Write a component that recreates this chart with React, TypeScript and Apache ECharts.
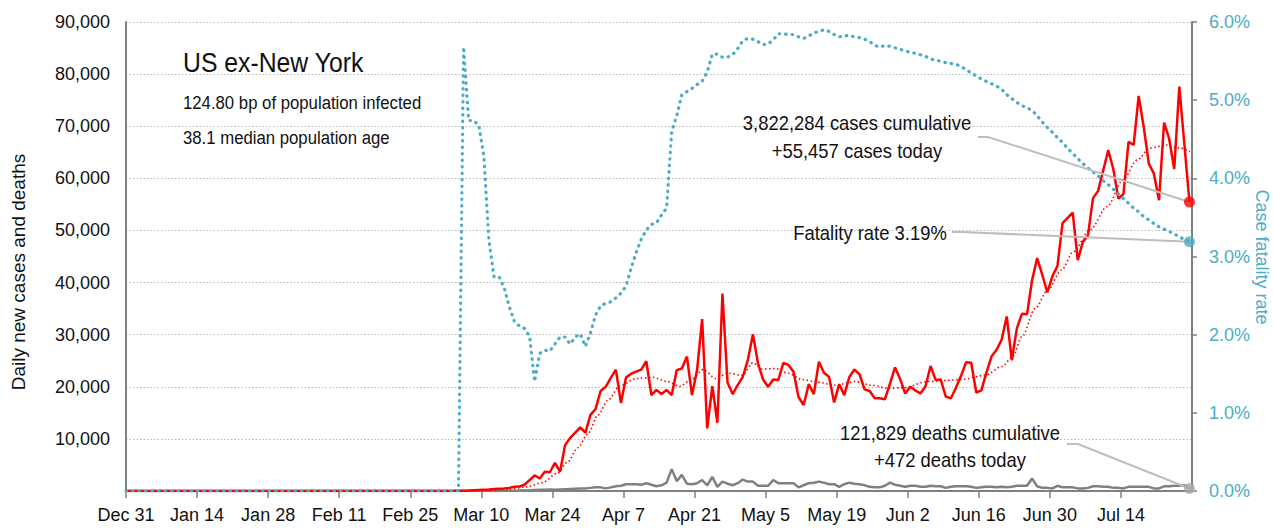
import React, { useEffect, useRef } from "react";
import * as echarts from "echarts";

// ---------- data ----------
const X_TICK_LABELS = [
  "Dec 31", "Jan 14", "Jan 28", "Feb 11", "Feb 25", "Mar 10", "Mar 24", "Apr 7",
  "Apr 21", "May 5", "May 19", "Jun 2", "Jun 16", "Jun 30", "Jul 14",
];
// day index 0 = Dec 31; arrays below start at FIRST_DAY (Feb 29)
const FIRST_DAY = 60;

const CASES = [
  0, 0, 10, 20, 30, 50, 70, 100, 150, 200,
  250, 300, 400, 450, 500, 600, 800, 850, 1200, 2100,
  3000, 2400, 3700, 3600, 5400, 3700, 8800, 10200, 11200, 12200,
  11200, 14600, 15700, 19200, 20000, 21700, 23300, 16900, 21800, 22500,
  22900, 23300, 24900, 18400, 19400, 18600, 19400, 18400, 23200, 23500,
  25800, 18400, 23200, 33000, 12000, 20100, 13100, 37900, 20800, 18600,
  20300, 21900, 25100, 30100, 24500, 21400, 20000, 21400, 21300, 24600,
  24200, 22900, 18000, 16500, 20500, 18600, 24800, 22700, 21900, 17000,
  20500, 18400, 21900, 23300, 22400, 19500, 19200, 17800, 17800, 17600,
  20600, 23700, 21500, 18700, 20000, 19300, 18700, 20100, 24000, 21300,
  21400, 18100, 17800, 19800, 22100, 24700, 24600, 18900, 19300, 22700,
  25800, 27100, 29000, 33500, 25100, 31200, 34000, 33900, 40500, 44700,
  41500, 38100, 41200, 43200, 51400, 52400, 53400, 44300, 47800, 49000,
  56200, 57600, 61500, 65400, 61800, 56100, 57000, 67000, 66400, 75800,
  69800, 62800, 60900, 55800, 70700, 67600, 61800, 77600, 66500, 55457,
];

const DEATHS = [
  0, 0, 0, 0, 0, 0, 0, 0, 10, 10,
  10, 20, 20, 30, 40, 50, 70, 100, 120, 150,
  200, 250, 250, 300, 250, 300, 350, 400, 450, 500,
  500, 600, 700, 700, 500, 700, 900, 1000, 1300, 1300,
  1300, 1200, 1500, 1200, 900, 1100, 1600, 4200, 1900, 3100,
  1400, 1300, 1500, 2100, 1100, 2700, 800, 1800, 1400, 1100,
  1500, 2200, 1800, 1800, 1000, 1000, 1000, 2100, 1500, 1500,
  1500, 1500, 700, 1100, 1500, 1600, 1800, 1600, 1300, 1300,
  800, 1300, 1600, 1400, 1300, 1100, 800, 700, 700, 1000,
  1600, 1200, 1000, 800, 1000, 1000, 800, 800, 1000, 900,
  900, 600, 800, 900, 900, 900, 800, 600, 700, 800,
  800, 700, 800, 700, 800, 1000, 1000, 1000, 2400, 900,
  600, 600, 500, 1000, 700, 700, 700, 500, 500, 600,
  900, 900, 800, 800, 600, 600, 500, 800, 800, 800,
  800, 800, 500, 500, 900, 900, 1000, 1000, 1100, 472,
];

// case fatality rate, percent
const FATALITY = [
  0, 0, 0, 0, 0, 0, 5.68, 4.74, 4.74, 4.68,
  4.28, 3.2, 2.74, 2.74, 2.6, 2.36, 2.17, 2.11, 2.08, 1.98,
  1.4, 1.76, 1.8, 1.79, 1.88, 1.97, 1.97, 1.88, 1.97, 2.01,
  1.85, 2.02, 2.25, 2.37, 2.4, 2.42, 2.47, 2.53, 2.62, 2.85,
  3.05, 3.22, 3.34, 3.41, 3.43, 3.53, 3.62, 4.6, 4.8, 5.07,
  5.11, 5.15, 5.2, 5.24, 5.36, 5.59, 5.59, 5.55, 5.55, 5.58,
  5.66, 5.76, 5.79, 5.78, 5.75, 5.71, 5.72, 5.77, 5.85, 5.85,
  5.84, 5.84, 5.81, 5.79, 5.82, 5.86, 5.88, 5.9, 5.88, 5.84,
  5.81, 5.82, 5.83, 5.81, 5.8, 5.78, 5.75, 5.7, 5.68, 5.7,
  5.69, 5.67, 5.65, 5.63, 5.61, 5.6, 5.58, 5.56, 5.53, 5.51,
  5.5, 5.48, 5.47, 5.46, 5.43, 5.39, 5.35, 5.31, 5.27, 5.24,
  5.21, 5.18, 5.14, 5.07, 5.02, 4.97, 4.93, 4.9, 4.87, 4.8,
  4.72, 4.65, 4.59, 4.52, 4.46, 4.38, 4.32, 4.25, 4.19, 4.13,
  4.08, 4.03, 3.97, 3.92, 3.86, 3.8, 3.74, 3.68, 3.62, 3.57,
  3.51, 3.47, 3.42, 3.38, 3.35, 3.32, 3.29, 3.25, 3.22, 3.19,
];

// smoothed cases trend (day index, cases)
const TREND_DAYS = [
  0, 70, 75, 79, 82, 85, 87, 89, 91, 93, 95, 97.3, 100.6, 103.8, 106.6, 109.1,
  111.5, 113.7, 116.2, 118.6, 121.4, 123.5, 125.3, 127.9, 130.4, 133.2, 135.7,
  139.7, 143.6, 146.9, 150.1, 153, 158, 164.7, 169.2, 172.6, 174.7, 176.5,
  179.1, 181.6, 184.3, 186.6, 189.9, 193.3, 196.4, 199.2, 201.7, 205.1, 207.6, 209.6,
];
const TREND_CASES = [
  0, 100, 300, 800, 1600, 3400, 5600, 8300, 11000, 14600, 17500, 20200, 21600, 21800, 21000, 20100,
  21500, 23300, 21600, 22600, 22200, 24600, 23400, 23500, 22600, 21400, 21000,
  20300, 21000, 20300, 19700, 19800, 21000, 21400, 22200, 23900, 25800, 29600,
  35000, 38600, 42400, 45900, 50100, 54600, 59700, 63500, 65800, 66400, 65800, 65100,
];

const TITLE = "US ex-New York";
const SUBTITLES = ["124.80 bp of population infected", "38.1 median population age"];
const CASES_NOTE = ["3,822,284 cases cumulative", "+55,457 cases today"];
const FATALITY_NOTE = "Fatality rate 3.19%";
const DEATHS_NOTE = ["121,829 deaths cumulative", "+472 deaths today"];
const LEFT_AXIS_NAME = "Daily new cases and deaths";
const RIGHT_AXIS_NAME = "Case fatality rate";

// ---------- styling ----------
const FONT = "'Liberation Sans', Arial, sans-serif";
const RED = "#ff0000";
const BLUE = "#4bacc6";
const GRAY = "#808080";
const DOT_GRAY = "#a6a6a6";
const LEADER = "#bdbdbd";
const DAY_OFFSET = 0.5;

const toPoints = (vals: number[]) => [
  [0, 0],
  ...vals.map((v, i) => [FIRST_DAY + i + DAY_OFFSET, v]),
];
const lastX = FIRST_DAY + CASES.length - 1 + DAY_OFFSET;

export default function App() {
  const ref = useRef<HTMLDivElement>(null);

  useEffect(() => {
    document.body.style.margin = "0";
    const chart = echarts.init(ref.current!, null, { renderer: "svg" });
    const option: any = {
      animation: false,
      backgroundColor: "#ffffff",
      grid: { left: 126, right: 81, top: 22, bottom: 38, containLabel: false, outerBoundsMode: "none" },
      xAxis: {
        type: "value",
        min: 0,
        max: 210,
        interval: 14,
        axisLine: { show: true, lineStyle: { color: GRAY, width: 2 } },
        axisTick: { show: true, length: 7, lineStyle: { color: GRAY, width: 1.5 } },
        axisLabel: {
          color: "#111",
          fontFamily: FONT,
          fontSize: 18,
          margin: 15,
          showMaxLabel: false,
          formatter: (v: number) => X_TICK_LABELS[Math.round(v / 14)] ?? "",
        },
        splitLine: { show: false },
      },
      yAxis: [
        {
          type: "value",
          min: 0,
          max: 90000,
          interval: 10000,
          axisLine: { show: true, lineStyle: { color: GRAY, width: 2 } },
          axisTick: { show: false },
          axisLabel: {
            color: "#111",
            fontFamily: FONT,
            fontSize: 18,
            margin: 16,
            formatter: (v: number) => (v === 0 ? "" : v.toLocaleString("en-US")),
          },
          splitLine: { show: true, lineStyle: { color: "#b8b8b8", type: [1.5, 2], width: 1 } },
        },
        {
          type: "value",
          min: 0,
          max: 6,
          interval: 1,
          position: "right",
          axisLine: { show: true, lineStyle: { color: GRAY, width: 2 } },
          axisTick: { show: true, length: 5, lineStyle: { color: GRAY, width: 1.5 } },
          axisLabel: {
            color: BLUE,
            fontFamily: FONT,
            fontSize: 18,
            margin: 17,
            formatter: (v: number) => v.toFixed(1) + "%",
          },
          splitLine: { show: false },
        },
      ],
      series: [
        {
          name: "Deaths",
          type: "line",
          data: toPoints(DEATHS),
          showSymbol: false,
          lineStyle: { color: GRAY, width: 2.5 },
          z: 2,
        },
        {
          name: "Cases",
          type: "line",
          data: toPoints(CASES),
          showSymbol: false,
          lineStyle: { color: RED, width: 2.5 },
          z: 3,
        },
        {
          name: "Trend",
          type: "line",
          data: TREND_DAYS.map((d, i) => [d, TREND_CASES[i]]),
          showSymbol: false,
          smooth: 0.3,
          smoothMonotone: "x",
          lineStyle: { color: RED, width: 1.6, type: [1.5, 2.5] },
          z: 4,
        },
        {
          name: "Fatality",
          type: "line",
          yAxisIndex: 1,
          data: toPoints(FATALITY),
          showSymbol: false,
          lineStyle: { color: BLUE, width: 3.2, type: [0.5, 6], cap: "round" },
          z: 5,
        },
        {
          name: "end-deaths",
          type: "scatter",
          data: [[lastX, DEATHS[DEATHS.length - 1]]],
          symbolSize: 11,
          itemStyle: { color: DOT_GRAY },
          z: 8,
        },
        {
          name: "end-cases",
          type: "scatter",
          data: [[lastX, CASES[CASES.length - 1]]],
          symbolSize: 11,
          itemStyle: { color: RED },
          z: 8,
        },
        {
          name: "end-fatality",
          type: "scatter",
          yAxisIndex: 1,
          data: [[lastX, FATALITY[FATALITY.length - 1]]],
          symbolSize: 11,
          itemStyle: { color: BLUE },
          z: 8,
        },
      ],
    };
    chart.setOption(option);

    const pCases = chart.convertToPixel({ xAxisIndex: 0, yAxisIndex: 0 }, [lastX, CASES[CASES.length - 1]]) as number[];
    const pDeaths = chart.convertToPixel({ xAxisIndex: 0, yAxisIndex: 0 }, [lastX, DEATHS[DEATHS.length - 1]]) as number[];
    const pFat = chart.convertToPixel({ xAxisIndex: 0, yAxisIndex: 1 }, [lastX, FATALITY[FATALITY.length - 1]]) as number[];

    const txt = (
      text: string, x: number, y: number, size: number, sx: number,
      align = "center", fill = "#111", rotation = 0,
    ) => ({
      type: "text",
      x,
      y,
      scaleX: sx,
      rotation,
      z: 20,
      style: {
        text,
        x: 0,
        y: 0,
        fill,
        font: `${size}px ${FONT}`,
        textAlign: align,
        textVerticalAlign: "middle",
      },
    });
    const leader = (pts: number[][]) => ({
      type: "polyline",
      z: 6,
      shape: { points: pts },
      style: { stroke: LEADER, lineWidth: 2, fill: "none" },
    });

    chart.setOption({
      graphic: [
        txt(TITLE, 183, 62, 28, 0.885, "left"),
        txt(SUBTITLES[0], 183, 103, 18.6, 0.9, "left"),
        txt(SUBTITLES[1], 183, 138, 18.6, 0.9, "left"),
        txt(CASES_NOTE[0], 857, 123, 21, 0.877),
        txt(CASES_NOTE[1], 857, 151, 21, 0.877),
        txt(FATALITY_NOTE, 870, 233, 21, 0.877),
        txt(DEATHS_NOTE[0], 950, 433, 21, 0.877),
        txt(DEATHS_NOTE[1], 950, 460, 21, 0.877),
        txt(LEFT_AXIS_NAME, 18, 272, 19, 1, "center", "#111", Math.PI / 2),
        txt(RIGHT_AXIS_NAME, 1262, 257, 18, 1, "center", BLUE, -Math.PI / 2),
        leader([[978, 137], [988, 137], [pCases[0], pCases[1]]]),
        leader([[952, 232], [962, 232], [pFat[0], pFat[1]]]),
        leader([[1067, 444], [1078, 444], [pDeaths[0], pDeaths[1]]]),
      ],
    });

    return () => chart.dispose();
  }, []);

  return <div ref={ref} style={{ width: 1273, height: 529 }} />;
}
